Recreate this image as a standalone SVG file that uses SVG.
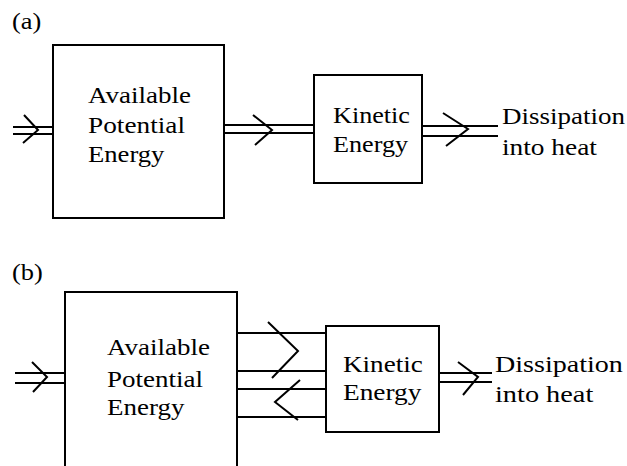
<svg xmlns="http://www.w3.org/2000/svg" width="627" height="466" viewBox="0 0 627 466">
<style>
text{font-family:"Liberation Serif","Times New Roman",serif;font-size:24px;fill:#000}
.box{fill:none;stroke:#000;stroke-width:2}
.ln{fill:none;stroke:#000;stroke-width:2}
.chev{fill:none;stroke:#000;stroke-width:2;stroke-linejoin:miter}
</style>
<rect width="627" height="466" fill="#fff"/>
<text transform="translate(12,29) scale(1.1,1)">(a)</text>
<text transform="translate(12,280) scale(1.1,1)">(b)</text>

<g id="ape-a">
<rect class="box" x="53" y="45" width="171" height="173"/>
<text transform="translate(88,103) scale(1.125,1)">Available</text>
<text transform="translate(88,133) scale(1.137,1)">Potential</text>
<text transform="translate(88,162) scale(1.11,1)">Energy</text>
</g>
<g id="ke-a">
<rect class="box" x="314" y="75" width="108" height="108"/>
<text transform="translate(333,123) scale(1.09,1)">Kinetic</text>
<text transform="translate(333,152) scale(1.09,1)">Energy</text>
</g>
<g id="heat-a">
<text transform="translate(502,124) scale(1.125,1)">Dissipation</text>
<text transform="translate(502,155) scale(1.14,1)">into heat</text>
</g>

<g id="ape-b">
<path class="box" d="M65,470 V292 H237 V470"/>
<text transform="translate(107,355) scale(1.125,1)">Available</text>
<text transform="translate(107,387) scale(1.125,1)">Potential</text>
<text transform="translate(107,415) scale(1.125,1)">Energy</text>
</g>
<g id="ke-b">
<rect class="box" x="326" y="326" width="113" height="106"/>
<text transform="translate(343,372) scale(1.13,1)">Kinetic</text>
<text transform="translate(343,400) scale(1.14,1)">Energy</text>
</g>
<g id="heat-b">
<text transform="translate(495,372) scale(1.17,1)">Dissipation</text>
<text transform="translate(495,402) scale(1.18,1)">into heat</text>
</g>

<g id="connectors">
<path class="ln" d="M13,127 H53 M13,134 H53"/>
<path class="chev" d="M24,115 L38,130 L23,143"/>
<path class="ln" d="M224,125 H314 M224,133 H314"/>
<path class="chev" d="M253,115 L272,130 L255,145"/>
<path class="ln" d="M422,126 H498 M422,136 H498"/>
<path class="chev" d="M443,113 L468,129 L446,146"/>
<path class="ln" d="M15,373 H65 M15,383 H65"/>
<path class="chev" d="M32,362 L47,377 L33,392"/>
<path class="ln" d="M237,333 H326 M237,371 H326"/>
<path class="chev" d="M268,322 L298,351 L272,378"/>
<path class="ln" d="M237,389 H326 M237,417 H326"/>
<path class="chev" d="M300,380 L275,402 L298,420"/>
<path class="ln" d="M440,373 H492 M440,382 H492"/>
<path class="chev" d="M458,362 L478,377 L463,395"/>
</g>
</svg>
